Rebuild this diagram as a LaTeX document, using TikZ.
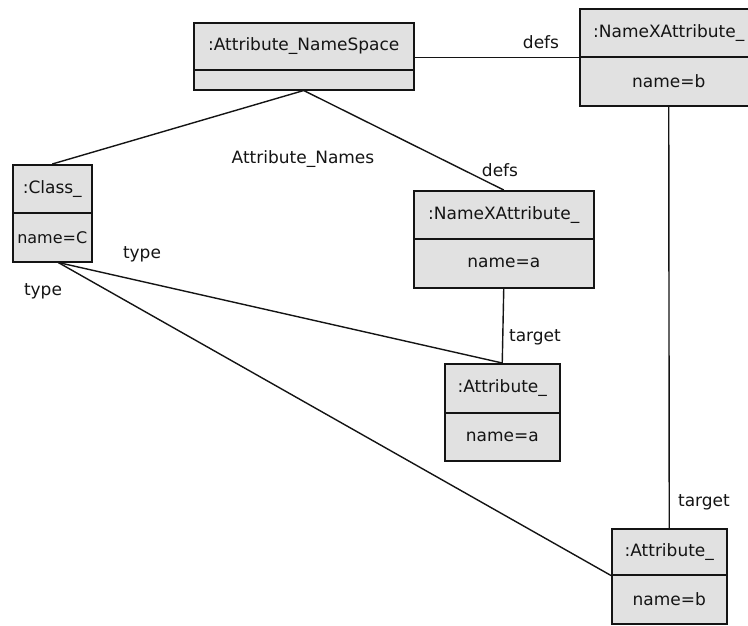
\documentclass[tikz,border=0pt]{standalone}
\usepackage{fontspec}
\setmainfont{DejaVu Sans}
\definecolor{boxgray}{RGB}{225,225,225}
\definecolor{inkgray}{RGB}{20,20,20}
\tikzset{
  part/.style={draw=inkgray, fill=boxgray, line width=1.5pt, inner sep=0pt,
    anchor=north west, font=\fontsize{17}{20}\selectfont, text=inkgray},
  conn/.style={draw=inkgray, line width=1.4pt},
  lbl/.style={font=\fontsize{17}{20}\selectfont, text=inkgray, inner sep=0pt}
}
\begin{document}
\begin{tikzpicture}[x=1pt,y=-1pt]
\useasboundingbox (0,0) rectangle (748,625);
\begin{scope}
\clip (0,0) rectangle (748,625);
% Attribute_NameSpace
\node[part, minimum width=220, minimum height=47] (ansT) at (193,22) {:Attribute\_NameSpace};
\node[part, minimum width=220, minimum height=20] (ansB) at (193,69) {};
% NameXAttribute_ b (top right)
\node[part, minimum width=178, minimum height=48] (nxbT) at (579,8) {:NameXAttribute\_};
\node[part, minimum width=178, minimum height=49] (nxbB) at (579,56) {name=b};
% Class_
\node[part, minimum width=79, minimum height=48] (clsT) at (12,164) {:Class\_};
\node[part, minimum width=79, minimum height=49, font=\fontsize{16}{19}\selectfont] (clsB) at (12,212) {name=C};
% NameXAttribute_ a
\node[part, minimum width=180, minimum height=48] (nxaT) at (413,190) {:NameXAttribute\_};
\node[part, minimum width=180, minimum height=49] (nxaB) at (413,238) {name=a};
% Attribute_ a
\node[part, minimum width=115, minimum height=49] (attaT) at (444,363) {:Attribute\_};
\node[part, minimum width=115, minimum height=48] (attaB) at (444,412) {name=a};
% Attribute_ b
\node[part, minimum width=115, minimum height=46] (attbT) at (611,528) {:Attribute\_};
\node[part, minimum width=115, minimum height=49] (attbB) at (611,574) {name=b};
\end{scope}
% connectors
\draw[conn] (ansT.east |- nxbT.south west) -- (nxbT.south west);
\draw[conn] (ansB.south) -- (clsT.north);
\draw[conn] (ansB.south) -- (nxaT.north);
\draw[conn] (nxaB.south) -- (attaT.north);
\coordinate (clsfoot) at ([xshift=6pt]clsB.south);
\draw[conn] (clsfoot) -- (attaT.north);
\draw[conn] (clsfoot) -- (attbT.south west);
\draw[conn] (nxbB.south) -- (attbT.north);
% labels
\node[lbl] (l1) at (541,42) {defs};
\node[lbl] (l2) at (500,170) {defs};
\node[lbl] (l3) at (303,159) {Attribute\_Names};
\node[lbl] (l4) at (535,337) {target};
\node[lbl] (l5) at (704,502) {target};
\node[lbl] (l6) at (142,254) {type};
\node[lbl] (l7) at (43,291) {type};
\end{tikzpicture}
\end{document}
